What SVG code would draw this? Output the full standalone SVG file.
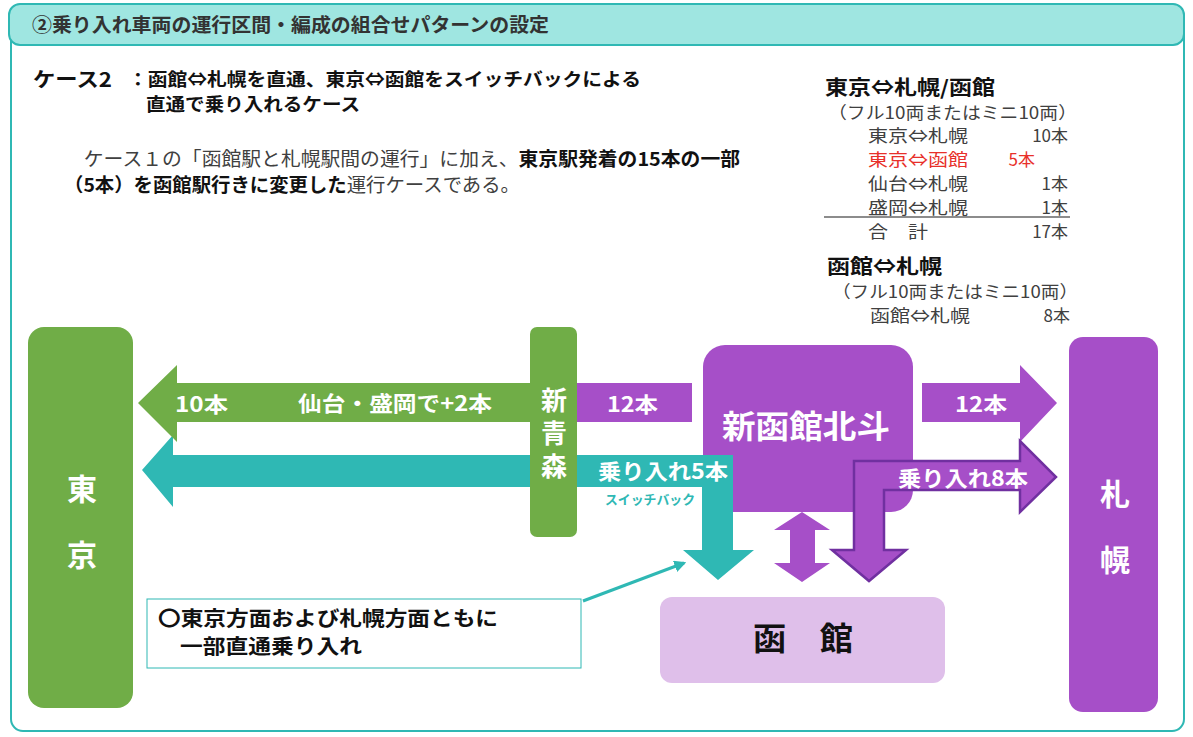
<svg xmlns="http://www.w3.org/2000/svg" width="1193" height="737" viewBox="0 0 1193 737">
<defs>
<style>
text{font-family:"Noto Sans CJK JP","Noto Sans",sans-serif;dominant-baseline:central}
.w{fill:#fff;font-weight:bold}
.b{font-weight:bold;fill:#111}
.n{fill:#404040}
.green{fill:#70ad47}
.teal{fill:#2fb8b4}
.purple{fill:#a64fc8}
</style>
<marker id="ah" viewBox="0 0 10 10" refX="8" refY="5" markerWidth="4" markerHeight="4" orient="auto"><path d="M0,0 L10,5 L0,10 Z" fill="#2fb8b4"/></marker>
</defs>
<rect width="1193" height="737" fill="#fff"/>
<g id="frame">
<rect x="11" y="10" width="1173" height="721" rx="12" fill="none" stroke="#2fb8b4" stroke-width="2"/>
<rect x="9" y="4" width="1175" height="41" rx="11" fill="#9fe6e1" stroke="#2fb8b4" stroke-width="2"/>
<text x="32" y="23" font-size="19" font-weight="bold" fill="#333" textLength="517" lengthAdjust="spacingAndGlyphs">②乗り入れ車両の運行区間・編成の組合せパターンの設定</text>
</g>
<g id="case-text">
<text x="33" y="78" font-size="20" class="b" textLength="79" lengthAdjust="spacingAndGlyphs">ケース2</text>
<text x="128" y="78" font-size="18" class="b" textLength="513" lengthAdjust="spacingAndGlyphs">：函館⇔札幌を直通、東京⇔函館をスイッチバックによる</text>
<text x="146" y="103" font-size="18" class="b" textLength="214" lengthAdjust="spacingAndGlyphs">直通で乗り入れるケース</text>
<text x="64" y="157" font-size="19" textLength="676" lengthAdjust="spacingAndGlyphs"><tspan class="n">　ケース１の「函館駅と札幌駅間の運行」に加え、</tspan><tspan class="b">東京駅発着の15本の一部</tspan></text>
<text x="64" y="183" font-size="19" textLength="456" lengthAdjust="spacingAndGlyphs"><tspan class="b">（5本）を函館駅行きに変更した</tspan><tspan class="n">運行ケースである。</tspan></text>
</g>
<g id="table" font-size="17">
<text x="825" y="86" font-size="20" class="b" textLength="170" lengthAdjust="spacingAndGlyphs">東京⇔札幌/函館</text>
<text x="828" y="111" class="n" textLength="249" lengthAdjust="spacingAndGlyphs">（フル10両またはミニ10両）</text>
<text x="868" y="134" class="n" textLength="100" lengthAdjust="spacingAndGlyphs">東京⇔札幌</text><text x="1068" y="134" class="n" text-anchor="end">10本</text>
<text x="868" y="158" fill="#e8302a" textLength="100" lengthAdjust="spacingAndGlyphs">東京⇔函館</text><text x="1035" y="158" fill="#e8302a" text-anchor="end">5本</text>
<text x="868" y="182" class="n" textLength="100" lengthAdjust="spacingAndGlyphs">仙台⇔札幌</text><text x="1068" y="182" class="n" text-anchor="end">1本</text>
<text x="868" y="206" class="n" textLength="100" lengthAdjust="spacingAndGlyphs">盛岡⇔札幌</text><text x="1068" y="206" class="n" text-anchor="end">1本</text>
<line x1="824" y1="217" x2="1070" y2="217" stroke="#666" stroke-width="1.5"/>
<text x="868" y="230" class="n" textLength="60" lengthAdjust="spacingAndGlyphs">合　計</text><text x="1068" y="230" class="n" text-anchor="end">17本</text>
<text x="827" y="265" font-size="20" class="b" textLength="115" lengthAdjust="spacingAndGlyphs">函館⇔札幌</text>
<text x="832" y="290" class="n" textLength="246" lengthAdjust="spacingAndGlyphs">（フル10両またはミニ10両）</text>
<text x="870" y="314" class="n" textLength="100" lengthAdjust="spacingAndGlyphs">函館⇔札幌</text><text x="1070" y="314" class="n" text-anchor="end">8本</text>
</g>
<g id="shinhakodate">
<rect x="703" y="345" width="210" height="167" rx="22" class="purple"/>
<text x="722" y="424" font-size="32" class="w" textLength="168" lengthAdjust="spacingAndGlyphs">新函館北斗</text>
</g>
<g id="connectors">
<rect x="577" y="383" width="115" height="39" class="purple"/>
<path d="M142,470 L173,435 L173,455 L733,455 L733,550 L754,550 L718,580 L683,550 L702,550 L702,487 L173,487 L173,507 Z" class="teal"/>
<path d="M138,403 L177,365 L177,383 L530,383 L530,422 L177,422 L177,442 Z" class="green"/>
<path d="M922,383 L1020,383 L1020,365 L1057,403 L1020,442 L1020,422 L922,422 Z" class="purple"/>
<path d="M854,461 L1020,461 L1020,441 L1056,477 L1020,512 L1020,490 L884,490 L884,550 L906,550 L869,581 L832,550 L854,550 Z" class="purple" stroke="#7030a0" stroke-width="2.5" stroke-linejoin="miter"/>
<path d="M802,512 L830,530 L815,530 L815,563 L830,563 L802,582 L774,563 L790,563 L790,530 L774,530 Z" class="purple"/>
<line x1="583" y1="601" x2="684" y2="563" stroke="#2fb8b4" stroke-width="3" marker-end="url(#ah)"/>
<text x="175" y="403" font-size="21" class="w" textLength="53" lengthAdjust="spacingAndGlyphs">10本</text>
<text x="298" y="402" font-size="21" class="w" textLength="194" lengthAdjust="spacingAndGlyphs">仙台・盛岡で+2本</text>
<text x="607" y="403" font-size="21" class="w" textLength="51" lengthAdjust="spacingAndGlyphs">12本</text>
<text x="955" y="403" font-size="21" class="w" textLength="52" lengthAdjust="spacingAndGlyphs">12本</text>
<text x="598" y="470" font-size="21" class="w" textLength="130" lengthAdjust="spacingAndGlyphs">乗り入れ5本</text>
<text x="605" y="498" font-size="13" font-weight="bold" fill="#2fb8b4" textLength="90" lengthAdjust="spacingAndGlyphs">スイッチバック</text>
<text x="898" y="477" font-size="21" class="w" textLength="130" lengthAdjust="spacingAndGlyphs">乗り入れ8本</text>
</g>
<g id="shinaomori">
<rect x="530" y="327" width="47" height="210" rx="7" class="green"/>
<text x="554" y="387" font-size="26" class="w" writing-mode="vertical-rl" letter-spacing="7">新青森</text>
</g>
<g id="tokyo">
<rect x="28" y="327" width="105" height="381" rx="16" class="green"/>
<text x="82" y="487" font-size="30" class="w" text-anchor="middle">東</text>
<text x="82" y="553" font-size="30" class="w" text-anchor="middle">京</text>
</g>
<g id="sapporo">
<rect x="1069" y="337" width="89" height="375" rx="14" class="purple"/>
<text x="1115" y="492" font-size="30" class="w" text-anchor="middle">札</text>
<text x="1115" y="558" font-size="30" class="w" text-anchor="middle">幌</text>
</g>
<g id="hakodate">
<rect x="660" y="597" width="285" height="86" rx="12" fill="#dfbfea"/>
<text x="753" y="636" font-size="32" class="b" textLength="100" lengthAdjust="spacingAndGlyphs">函　館</text>
</g>
<g id="note">
<rect x="147" y="599" width="434" height="69" fill="#fff" stroke="#2fb8b4" stroke-width="1"/>
<text x="158" y="617" font-size="20" class="b" textLength="340" lengthAdjust="spacingAndGlyphs">〇東京方面および札幌方面ともに</text>
<text x="180" y="645" font-size="20" class="b" textLength="182" lengthAdjust="spacingAndGlyphs">一部直通乗り入れ</text>
</g>
<text x="1168" y="744" font-size="14" font-weight="bold" fill="#222">14</text>
</svg>
